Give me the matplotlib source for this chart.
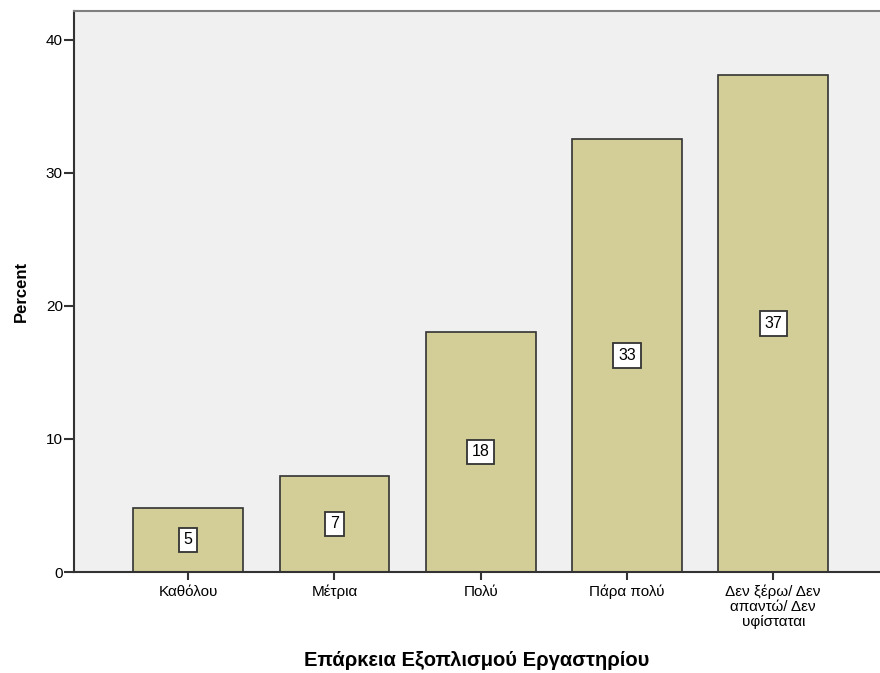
import numpy as np
import matplotlib
matplotlib.use('Agg')
import matplotlib.pyplot as plt

# Data (percent of respondents)
categories = ['Καθόλου', 'Μέτρια', 'Πολύ', 'Πάρα πολύ', 'Δεν ξέρω/ Δεν\nαπαντώ/ Δεν\nυφίσταται']
percent = [4.82, 7.23, 18.07, 32.53, 37.35]
yticks = [0, 10, 20, 30, 40]

plt.rcParams['font.family'] = ['Liberation Sans', 'DejaVu Sans']

fig = plt.figure(figsize=(8.8, 6.73), dpi=100)
ax = fig.add_axes([74 / 880, 1 - 572 / 673, 1 - 74 / 880, (572 - 11) / 673])
ax.set_facecolor('#f0f0f0')

x = np.arange(len(categories))
bars = ax.bar(x, percent, width=0.75, color='#d3ce97', edgecolor='#333333', linewidth=1.2, zorder=2)

# Value labels in the middle of each bar
for xi, v in zip(x, percent):
    ax.text(xi, v / 2, '{:.0f}'.format(v), ha='center', va='center', fontsize=11.5,
            bbox=dict(boxstyle='square,pad=0.3', fc='white', ec='#333333', lw=1.3), zorder=3)

ax.set_xlim(-0.78, 4.73)
ax.set_ylim(0, 42.18)
ax.set_yticks(yticks)
ax.set_xticks(x)
ax.set_xticklabels(categories, fontsize=11, linespacing=1.1)
ax.tick_params(axis='y', labelsize=11, length=7, width=1.5, color='#333333', pad=1)
ax.tick_params(axis='x', length=6, width=1.5, color='#333333', pad=3)

for side in ['left', 'bottom']:
    ax.spines[side].set_color('#333333')
    ax.spines[side].set_linewidth(1.5)
ax.spines['top'].set_color('#808080')
ax.spines['top'].set_linewidth(1.5)
ax.spines['right'].set_visible(False)

ax.set_ylabel('Percent', fontsize=12, fontweight='bold', labelpad=12)
ax.set_xlabel('Επάρκεια Εξοπλισμού Εργαστηρίου', fontsize=14.5, fontweight='bold', labelpad=16)

fig.savefig('out.png', dpi=100)
